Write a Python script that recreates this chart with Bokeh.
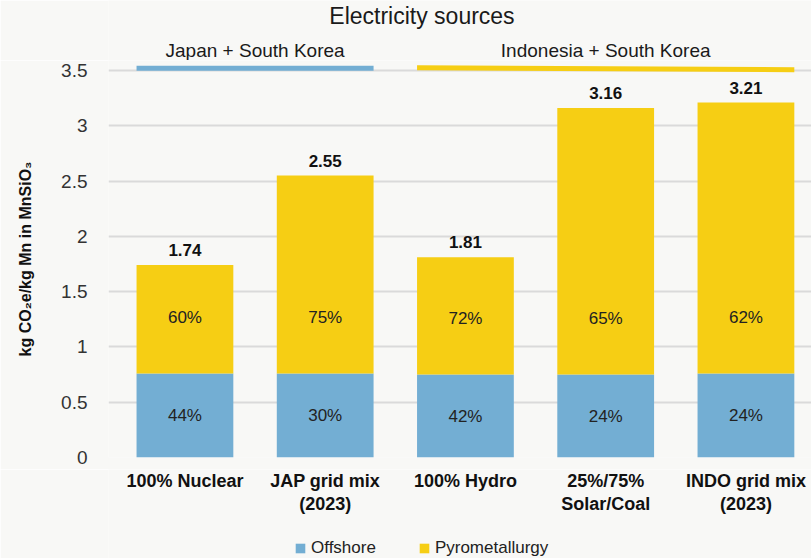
from bokeh.plotting import figure
from bokeh.layouts import column
from bokeh.models import (Range1d, FixedTicker, ColumnDataSource, Legend, LegendItem,
                          NumeralTickFormatter)
from bokeh.embed import file_html
from bokeh.resources import INLINE
from bokeh.core.properties import value

# ---- data ----
categories = ["100% Nuclear", "JAP grid mix\n(2023)", "100% Hydro",
              "25%/75%\nSolar/Coal", "INDO grid mix\n(2023)"]
offshore = [0.76, 0.76, 0.75, 0.75, 0.76]
totals = [1.74, 2.55, 1.81, 3.16, 3.21]
pyrometallurgy = [round(t - o, 2) for t, o in zip(totals, offshore)]
offshore_pct = ["44%", "30%", "42%", "24%", "24%"]
pyro_pct = ["60%", "75%", "72%", "65%", "62%"]
total_labels = ["1.74", "2.55", "1.81", "3.16", "3.21"]
groups = ["Japan + South Korea", "Indonesia + South Korea"]
group_first = [0, 2]
group_last = [1, 4]
y_ticks = [0, 0.5, 1, 1.5, 2, 2.5, 3, 3.5]
series_names = ["Offshore", "Pyrometallurgy"]
title_text = "Electricity sources"

# ---- styles ----
BG = "#f8f8f6"
BLUE = "#73aed3"
YELLOW = "#f6ce14"
FONT = "Liberation Sans"
BAR_W = 0.69
LEFT = 108
FRAME_W = 703

xs = list(range(len(categories)))
x_range = Range1d(-0.545, -0.545 + FRAME_W / 140.25)


def panel(height, y_range):
    fig = figure(frame_width=FRAME_W, frame_height=height, x_range=x_range,
                 y_range=y_range, output_backend="svg", toolbar_location=None,
                 min_border_left=LEFT, min_border_right=0, min_border_top=0,
                 min_border_bottom=0, x_axis_location=None, y_axis_location=None,
                 background_fill_color=BG, border_fill_color=BG,
                 outline_line_color=None)
    fig.grid.visible = False
    return fig


src = ColumnDataSource(dict(
    x=xs, offshore=offshore, pyro=pyrometallurgy, total=totals,
    off_mid=[o / 2 for o in offshore],
    pyro_lab=[o + 0.51 for o in offshore],
    off_pct=offshore_pct, pyro_pct=pyro_pct, total_lab=total_labels,
))

# ---- header (title + group labels) ----
h = panel(60, Range1d(0, 1))
h.text(x=[1.69], y=[0.75], text=[title_text], text_align="center",
       text_baseline="middle", text_font=value(FONT), text_font_size="23px",
       text_color="#1a1a1a")
h.text(x=[(f + l) / 2 for f, l in zip(group_first, group_last)],
       y=[0.17] * len(groups), text=groups, text_align="center",
       text_baseline="middle", text_font=value(FONT), text_font_size="19px",
       text_color="#1a1a1a")

# ---- main chart ----
p = figure(frame_width=FRAME_W, frame_height=397,
           x_range=x_range, y_range=Range1d(0, 3.59),
           output_backend="svg", toolbar_location=None,
           min_border_left=LEFT, min_border_right=0, min_border_top=0,
           min_border_bottom=12, x_axis_location=None,
           background_fill_color=BG, border_fill_color=BG,
           outline_line_color=None)

p.vbar_stack(["offshore", "pyro"], x="x", width=BAR_W,
             color=[BLUE, YELLOW], line_color=None, source=src)

p.text(x="x", y="off_mid", text="off_pct", source=src, text_align="center",
       text_baseline="middle", text_font=value(FONT), text_font_size="17px",
       text_color="#222222")
p.text(x="x", y="pyro_lab", text="pyro_pct", source=src, text_align="center",
       text_baseline="middle", text_font=value(FONT), text_font_size="17px",
       text_color="#222222")
p.text(x="x", y="total", text="total_lab", source=src, text_align="center",
       text_baseline="bottom", y_offset=-9, text_font=value(FONT),
       text_font_size="17px", text_font_style="bold", text_color="#111111")

# group bars
gsrc = ColumnDataSource(dict(
    x0=[f - BAR_W / 2 for f in group_first],
    x1=[l + BAR_W / 2 for l in group_last],
    y0=[3.52, 3.525], y1=[3.52, 3.507], color=[BLUE, YELLOW],
))
p.segment(x0="x0", y0="y0", x1="x1", y1="y1", color="color", line_width=5,
          source=gsrc)

p.yaxis.ticker = FixedTicker(ticks=y_ticks)
p.yaxis.formatter = NumeralTickFormatter(format="0.[0]")
p.yaxis.major_label_text_font = FONT
p.yaxis.major_label_text_font_size = "19px"
p.yaxis.major_label_text_color = "#333333"
p.yaxis.major_label_standoff = 21
p.yaxis.axis_line_color = None
p.yaxis.major_tick_line_color = None
p.yaxis.major_tick_out = 0
p.yaxis.major_tick_in = 0
p.yaxis.minor_tick_line_color = None
p.yaxis.axis_label = "kg CO\u2082e/kg Mn in MnSiO\u2083"
p.yaxis.axis_label_text_font = FONT
p.yaxis.axis_label_text_font_style = "bold"
p.yaxis.axis_label_text_font_size = "16px"
p.yaxis.axis_label_text_color = "#111111"
p.yaxis.axis_label_standoff = 24

p.xgrid.grid_line_color = None
p.ygrid.grid_line_color = "#dadada"
p.ygrid.grid_line_width = 2

# ---- footer (category labels + legend) ----
f = panel(89, Range1d(0, 89))
f.text(x=xs, y=[88] * len(xs), text=categories, text_align="center",
       text_baseline="top", text_font=value(FONT), text_font_size="18px",
       text_font_style="bold", text_color="#111111", text_line_height=1.17)
# zero-height bars: only used as legend swatches
swatches = [f.vbar(x=[0], top=[0], bottom=[0], width=0.5, color=c, line_color=None)
            for c in (BLUE, YELLOW)]
legend = Legend(items=[LegendItem(label=n, renderers=[r])
                       for n, r in zip(series_names, swatches)],
                orientation="horizontal", location=(186, 0),
                background_fill_alpha=0, border_line_color=None,
                label_text_font=FONT, label_text_font_size="17px",
                label_text_color="#222222", glyph_width=12, glyph_height=12,
                spacing=42, label_standoff=5, padding=2, margin=0)
f.add_layout(legend)

layout = column(h, p, f, spacing=0)
open("out.html", "w").write(file_html(layout, INLINE))
